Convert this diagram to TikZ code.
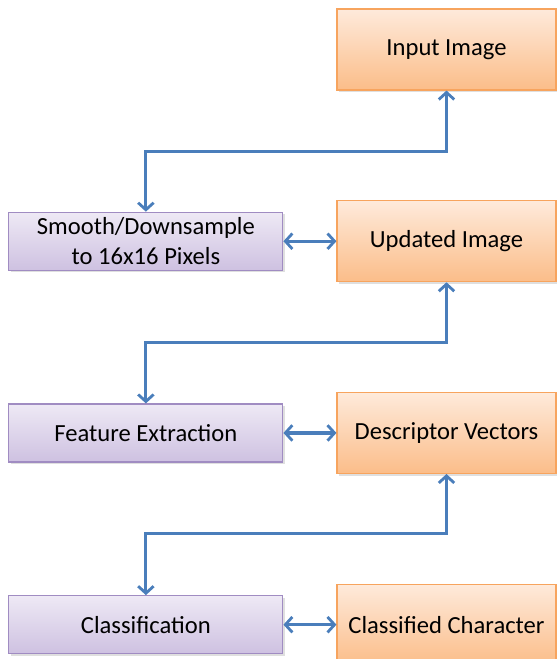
\documentclass[tikz,border=0pt]{standalone}
\usepackage{fontspec}
\setmainfont{Carlito}
\usepackage{xcolor}
\usetikzlibrary{positioning, arrows.meta, calc, shadows}

\definecolor{peachtop}{HTML}{FEEADB}
\definecolor{peachbot}{HTML}{FBBD89}
\definecolor{peachline}{HTML}{F7A45E}
\definecolor{liltop}{HTML}{EEE9F5}
\definecolor{lilbot}{HTML}{CEC1E1}
\definecolor{lilline}{HTML}{A08CC2}
\definecolor{linkblue}{HTML}{4A7EBB}

\begin{document}
\begin{tikzpicture}[
    node distance=2.74cm and 1.325cm,
    every node/.style={font=\fontsize{17.5}{21.5}\selectfont},
    result/.style={draw=peachline, line width=0.8pt, top color=peachtop, bottom color=peachbot,
      minimum width=5.475cm, minimum height=2.025cm, align=center, inner sep=0pt,
      drop shadow={shadow xshift=1.2pt, shadow yshift=-1.5pt, opacity=0.25}},
    process/.style={draw=lilline, line width=0.8pt, top color=liltop, bottom color=lilbot,
      minimum width=6.85cm, minimum height=1.45cm, align=center, inner sep=0pt,
      drop shadow={shadow xshift=1.2pt, shadow yshift=-1.5pt, opacity=0.25}},
    link/.style={{Straight Barb[length=5pt, width=11pt, line width=2pt]}-{Straight Barb[length=5pt, width=11pt, line width=2pt]},
      draw=linkblue, line width=2.2pt},
  ]

  \useasboundingbox (0,0) rectangle (13.9,-16.475);

  % --- Right column ---
  \node[result] at (11.1625,-1.2375) (input) {Input Image};
  \node[result, below=of input] (updated) {Updated Image};
  \node[result, below=of updated] (descr) {Descriptor Vectors};
  \node[result, below=of descr] (classed) {Classified Character};

  % --- Left column ---
  \node[process, left=of updated] (smooth) {Smooth/Downsample\\to 16x16 Pixels};
  \node[process, left=of descr] (feature) {Feature Extraction};
  \node[process, left=of classed] (classify) {Classification};

  % --- Arrows ---
  \draw[link] (smooth.north) -- ++(0,1.5) -| (input.south);
  \draw[link] (feature.north) -- ++(0,1.53) -| (updated.south);
  \draw[link] (classify.north) -- ++(0,1.53) -| (descr.south);

  \draw[link] (smooth.east) -- (updated.west);
  \draw[link] (feature.east) -- (descr.west);
  \draw[link] (classify.east) -- (classed.west);

\end{tikzpicture}
\end{document}
